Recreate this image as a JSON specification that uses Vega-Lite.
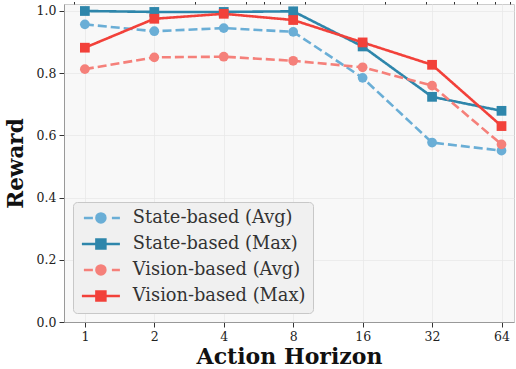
{
  "$schema": "https://vega.github.io/schema/vega-lite/v6.json",
  "autosize": {"type": "none"},
  "padding": {"left": 64, "top": 4, "right": 2, "bottom": 47},
  "width": 450,
  "height": 318,
  "background": "white",
  "config": {
    "view": {"fill": "#f8f8f8", "stroke": "#cccccc", "strokeWidth": 1},
    "font": "DejaVu Serif",
    "axis": {
      "labelFont": "DejaVu Serif", "labelFontSize": 12.5, "labelColor": "#222222",
      "titleFont": "DejaVu Serif", "titleFontWeight": "bold", "titleColor": "#111111",
      "gridColor": "#e8e8e8", "gridWidth": 0.8, "domainColor": "#999999",
      "tickColor": "#333333", "tickSize": 5
    }
  },
  "data": {"values": [
    {"h": 1, "series": "State-based (Avg)", "stat": "Avg", "reward": 0.957},
    {"h": 2, "series": "State-based (Avg)", "stat": "Avg", "reward": 0.935},
    {"h": 4, "series": "State-based (Avg)", "stat": "Avg", "reward": 0.945},
    {"h": 8, "series": "State-based (Avg)", "stat": "Avg", "reward": 0.933},
    {"h": 16, "series": "State-based (Avg)", "stat": "Avg", "reward": 0.785},
    {"h": 32, "series": "State-based (Avg)", "stat": "Avg", "reward": 0.577},
    {"h": 64, "series": "State-based (Avg)", "stat": "Avg", "reward": 0.551},
    {"h": 1, "series": "State-based (Max)", "stat": "Max", "reward": 1.0},
    {"h": 2, "series": "State-based (Max)", "stat": "Max", "reward": 0.997},
    {"h": 4, "series": "State-based (Max)", "stat": "Max", "reward": 0.997},
    {"h": 8, "series": "State-based (Max)", "stat": "Max", "reward": 0.999},
    {"h": 16, "series": "State-based (Max)", "stat": "Max", "reward": 0.886},
    {"h": 32, "series": "State-based (Max)", "stat": "Max", "reward": 0.724},
    {"h": 64, "series": "State-based (Max)", "stat": "Max", "reward": 0.679},
    {"h": 1, "series": "Vision-based (Avg)", "stat": "Avg", "reward": 0.813},
    {"h": 2, "series": "Vision-based (Avg)", "stat": "Avg", "reward": 0.851},
    {"h": 4, "series": "Vision-based (Avg)", "stat": "Avg", "reward": 0.853},
    {"h": 8, "series": "Vision-based (Avg)", "stat": "Avg", "reward": 0.84},
    {"h": 16, "series": "Vision-based (Avg)", "stat": "Avg", "reward": 0.819},
    {"h": 32, "series": "Vision-based (Avg)", "stat": "Avg", "reward": 0.76},
    {"h": 64, "series": "Vision-based (Avg)", "stat": "Avg", "reward": 0.571},
    {"h": 1, "series": "Vision-based (Max)", "stat": "Max", "reward": 0.882},
    {"h": 2, "series": "Vision-based (Max)", "stat": "Max", "reward": 0.975},
    {"h": 4, "series": "Vision-based (Max)", "stat": "Max", "reward": 0.991},
    {"h": 8, "series": "Vision-based (Max)", "stat": "Max", "reward": 0.971},
    {"h": 16, "series": "Vision-based (Max)", "stat": "Max", "reward": 0.899},
    {"h": 32, "series": "Vision-based (Max)", "stat": "Max", "reward": 0.827},
    {"h": 64, "series": "Vision-based (Max)", "stat": "Max", "reward": 0.63}
  ]},
  "encoding": {
    "y": {
      "field": "reward", "type": "quantitative",
      "scale": {"domain": [0, 1.0225], "nice": false, "zero": false},
      "axis": {"values": [0, 0.2, 0.4, 0.6, 0.8, 1.0], "format": ".1f", "title": "Reward",
               "titleFontSize": 21.5, "titlePadding": 9, "labelPadding": 3}
    },
    "color": {
      "field": "series", "type": "nominal",
      "scale": {"domain": ["State-based (Avg)", "State-based (Max)", "Vision-based (Avg)", "Vision-based (Max)"],
                "range": ["#6aaed6", "#2e86ab", "#f5807a", "#f2413a"]},
      "legend": {
        "title": null, "orient": "bottom-left", "offset": 9,
        "labelFont": "DejaVu Serif", "labelFontSize": 17.8, "labelColor": "#333333", "labelLimit": 400,
        "fillColor": "#f0f0f0", "strokeColor": "#c8c8c8", "cornerRadius": 4, "padding": 7,
        "symbolSize": 100, "symbolOffset": 12, "labelOffset": 23, "rowPadding": 6,
        "symbolStrokeWidth": 2.5, "symbolOpacity": 1,
        "encode": {
          "symbols": {"update": {
            "shape": {"signal": "indexof(datum.value, 'Avg') >= 0 ? 'M-3.4,0H-1.6M2.2,0H3.8M-0.9,0A0.9,0.9 0 1,0 0.9,0A0.9,0.9 0 1,0 -0.9,0Z' : 'M-3.8,0H3.8M-0.9,-0.9H0.9V0.9H-0.9Z'"},
            "strokeWidth": {"value": 2.5},
            "size": {"value": 100}
          }}
        }
      }
    }
  },
  "layer": [
    {
      "mark": {"type": "line", "strokeWidth": 2.6},
      "encoding": {
        "x": {
          "field": "h", "type": "quantitative",
          "scale": {"type": "log", "base": 2, "domain": [0.812, 72.5], "nice": false},
          "axis": {"values": [1, 2, 4, 8, 16, 32, 64], "format": "d", "title": "Action Horizon",
                   "titleFontSize": 22, "titlePadding": 4, "labelPadding": 3}
        },
        "strokeDash": {
          "field": "stat", "type": "nominal",
          "scale": {"domain": ["Avg", "Max"], "range": [[9, 4], [1, 0]]},
          "legend": null
        }
      }
    },
    {
      "mark": {"type": "point", "filled": true, "opacity": 1, "size": 95},
      "encoding": {
        "x": {
          "field": "h", "type": "quantitative",
          "scale": {"type": "log", "base": 2, "domain": [0.812, 72.5], "nice": false},
          "axis": {"values": [0.9, 3, 5, 6, 7, 9, 20, 30, 40, 50, 60, 70], "labels": false, "grid": false,
                   "domain": false, "ticks": true, "tickSize": 2.5, "title": null}
        },
        "shape": {
          "field": "stat", "type": "nominal",
          "scale": {"domain": ["Avg", "Max"], "range": ["circle", "square"]},
          "legend": null
        }
      }
    }
  ],
  "resolve": {"axis": {"x": "independent"}}
}
